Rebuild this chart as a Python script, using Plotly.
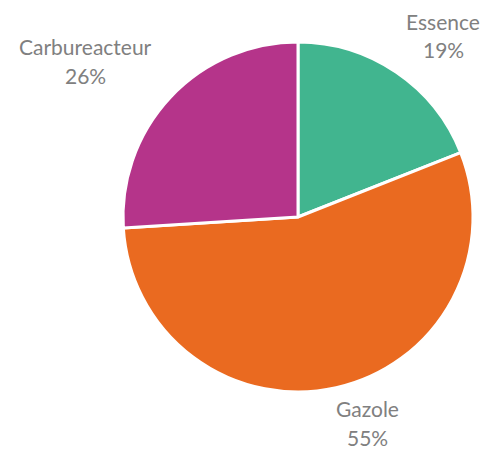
import plotly.graph_objects as go

# Fuel consumption share
labels = ["Essence", "Gazole", "Carbureacteur"]
shares = [19, 55, 26]
colors = ["#41B58F", "#EA6A20", "#B5348A"]

PAGE_PAD = 8  # default body margin of the html page
W, H = 492 - PAGE_PAD, 452 - PAGE_PAD
SIDE = 350
M = dict(l=123 - PAGE_PAD, t=42 - PAGE_PAD)
M["r"] = W - M["l"] - SIDE
M["b"] = H - M["t"] - SIDE

# pixel centres (in the screenshot) of label lines: x, name y, percent y
label_pos = {
    "Essence": (443, 22, 49),
    "Gazole": (367, 408, 437),
    "Carbureacteur": (85, 46, 75),
}


def to_paper(px, py):
    px -= PAGE_PAD
    py -= PAGE_PAD
    return (px - M["l"]) / SIDE, (M["t"] + SIDE - py) / SIDE


fig = go.Figure(
    go.Pie(
        labels=labels,
        values=shares,
        sort=False,
        direction="clockwise",
        rotation=0,
        marker=dict(colors=colors, line=dict(color="white", width=3)),
        textinfo="none",
        hoverinfo="label+percent",
        domain=dict(x=[0, 1], y=[0, 1]),
    )
)

font = dict(family="Lato, Open Sans, sans-serif", size=21, color="#808080")
for name, val in zip(labels, shares):
    px, y_name, y_pct = label_pos[name]
    for txt, py in ((name, y_name), (f"{val}%", y_pct)):
        x, y = to_paper(px, py)
        fig.add_annotation(
            x=x, y=y, xref="paper", yref="paper",
            text=txt, showarrow=False,
            xanchor="center", yanchor="middle",
            font=font,
        )

fig.update_layout(
    width=W,
    height=H,
    margin=M,
    showlegend=False,
    paper_bgcolor="white",
    plot_bgcolor="white",
)

fig.write_html("out.html")
